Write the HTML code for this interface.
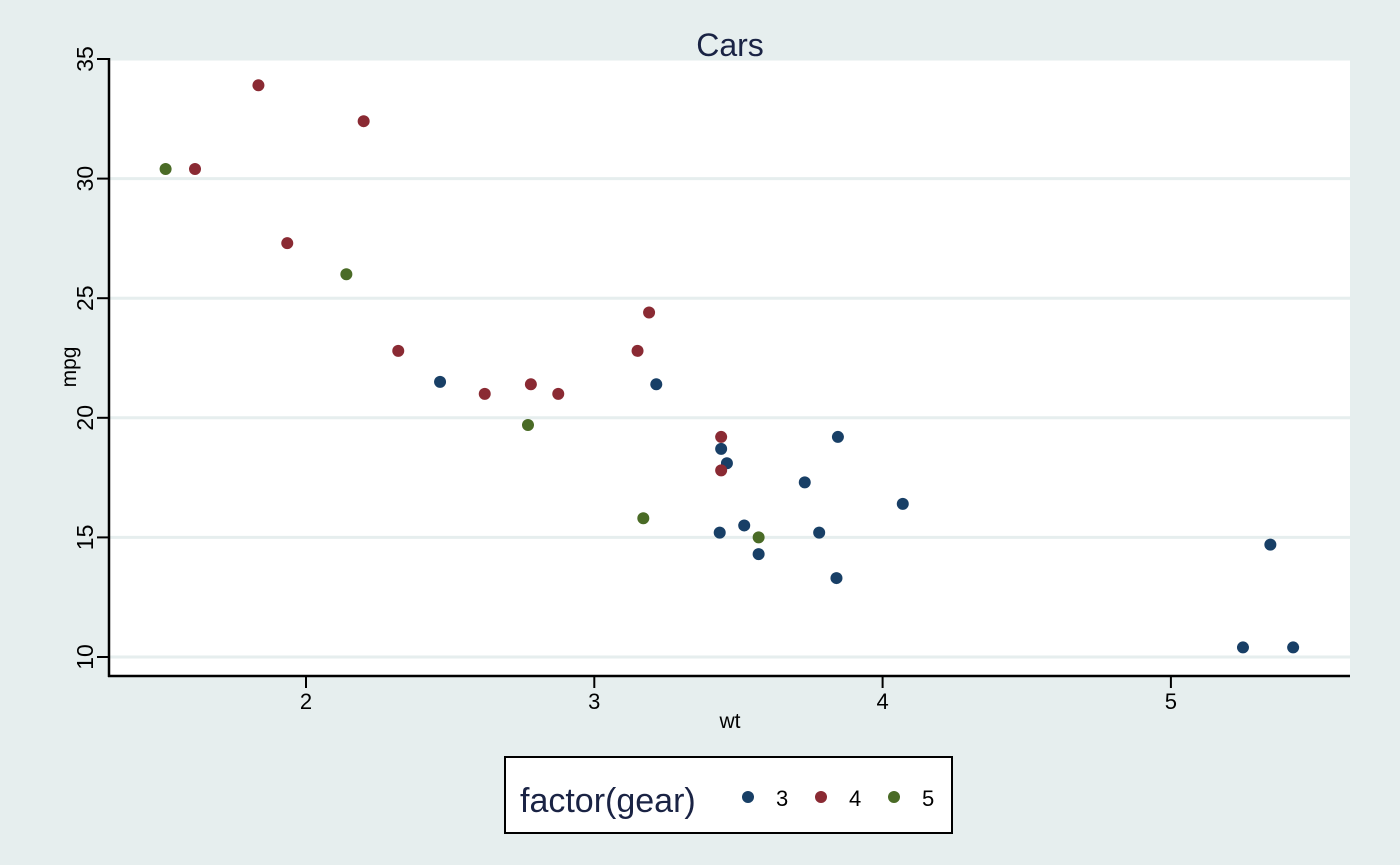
<!DOCTYPE html>
<html><head><meta charset="utf-8"><style>
body{margin:0;background:#eaf2f3;}
svg{display:block;font-family:"Liberation Sans",sans-serif;}
</style></head><body>
<svg id="c" width="1400" height="865">
<rect x="0" y="0" width="1400" height="865" fill="#e6eeee"/>
<rect x="109" y="58" width="1241" height="618" fill="#ffffff"/>
<text x="730" y="56" font-size="32" fill="#1a2344" text-anchor="middle">Cars</text>
<text x="730" y="728" font-size="21" fill="#000" text-anchor="middle">wt</text>
<text transform="translate(76,367) rotate(-90)" font-size="21" fill="#000" text-anchor="middle">mpg</text>
<g id="grid"></g><g id="axes"></g><g id="pts"></g>
<rect x="505" y="757" width="447" height="76" fill="#fff" stroke="#000" stroke-width="2"/>
<text x="520" y="812" font-size="34" fill="#1a2344">factor(gear)</text>
<g id="leg"></g>
</svg>
<script>
const wt=[2.620,2.875,2.320,3.215,3.440,3.460,3.570,3.190,3.150,3.440,3.440,4.070,3.730,3.780,5.250,5.424,5.345,2.200,1.615,1.835,2.465,3.520,3.435,3.840,3.845,1.935,2.140,1.513,3.170,2.770,3.570,2.780];
const mpg=[21.0,21.0,22.8,21.4,18.7,18.1,14.3,24.4,22.8,19.2,17.8,16.4,17.3,15.2,10.4,10.4,14.7,32.4,30.4,33.9,21.5,15.5,15.2,13.3,19.2,27.3,26.0,30.4,15.8,19.7,15.0,21.4];
const gear=[4,4,4,3,3,3,3,4,4,4,4,3,3,3,3,3,3,4,4,4,3,3,3,3,3,4,5,5,5,5,5,4];
const xTicks=[2,3,4,5];
const yTicks=[10,15,20,25,30,35];
const gearLevels=[3,4,5];
const colors={3:"#183f66",4:"#8a2a33",5:"#4a6b26"};
const NS="http://www.w3.org/2000/svg";
const X=v=>306+(v-2)*288.3;
const Y=v=>657-(v-10)*23.92;
function mk(t,a,p){const e=document.createElementNS(NS,t);for(const k in a)e.setAttribute(k,a[k]);p.appendChild(e);return e;}
const grid=document.getElementById('grid'),axes=document.getElementById('axes'),pts=document.getElementById('pts'),leg=document.getElementById('leg');
yTicks.forEach(v=>{
 const g=mk('line',{x1:109,x2:1350,y1:Y(v),y2:Y(v),stroke:'#e6eeee','stroke-width':3},grid);
 
 
 const t=mk('line',{x1:97,x2:109,y1:Y(v),y2:Y(v),stroke:'#000','stroke-width':2},axes);
 
 
 const l=mk('text',{transform:`translate(93,${Y(v)}) rotate(-90)`,'font-size':23,'text-anchor':'middle'},axes);
 l.textContent=v;
 
 
});
xTicks.forEach(v=>{
 const t=mk('line',{x1:X(v),x2:X(v),y1:676,y2:688,stroke:'#000','stroke-width':2},axes);
 
 
 const l=mk('text',{x:X(v),y:709,'font-size':22,'text-anchor':'middle'},axes);
 l.textContent=v;
 
 
});
const ya=mk('line',{x1:109,x2:109,y1:58,y2:677,stroke:'#000','stroke-width':2.5},axes);


const xa=mk('line',{x1:108,x2:1350,y1:676,y2:676,stroke:'#000','stroke-width':2.5},axes);


wt.forEach((w,i)=>{
 const c=mk('circle',{cx:X(w),cy:Y(mpg[i]),r:6,fill:colors[gear[i]]},pts);
 
 
});
gearLevels.forEach((g,i)=>{
 const x=748+i*73;
 const c=mk('circle',{cx:x,cy:797,r:6,fill:colors[g]},leg);
 
 
 const t=mk('text',{x:x+28,y:806,'font-size':22},leg);
 t.textContent=g;
 
 
});
</script>
</body></html>
